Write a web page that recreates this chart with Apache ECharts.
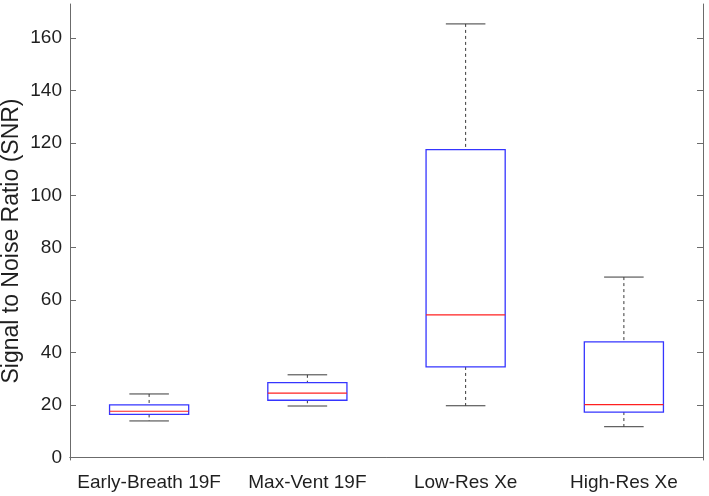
<!DOCTYPE html>
<html>
<head>
<meta charset="utf-8">
<script src="https://cdn.jsdelivr.net/npm/echarts@6/dist/echarts.min.js"></script>
<style>html,body{margin:0;padding:0;background:#fff}#c{width:709px;height:496px}</style>
</head>
<body>
<div id="c"></div>
<script>
const categories = ['Early-Breath 19F', 'Max-Vent 19F', 'Low-Res Xe', 'High-Res Xe'];
const lowerWhisker = [13.9, 19.6, 19.7, 11.7];
const q1 = [16.4, 21.8, 34.5, 17.3];
const median = [17.6, 24.5, 54.4, 20.1];
const q3 = [20.0, 28.5, 117.4, 44.1];
const upperWhisker = [24.2, 31.5, 165.4, 68.8];
const yTicks = [0, 20, 40, 60, 80, 100, 120, 140, 160];
const yTitle = 'Signal to Noise Ratio (SNR)';
const yMin = -1, yMax = 173;

const FONT = "'Liberation Sans', Arial, Helvetica, sans-serif";
const AX = '#6b6b6b';
const TXT = '#1f1f1f';

const data = categories.map((c, i) => [i, lowerWhisker[i], q1[i], median[i], q3[i], upperWhisker[i]]);

function renderItem(params, api) {
  const idx = api.value(0);
  const band = api.size([1, 0])[0];
  const bw = band * 0.5, cw = band * 0.25;
  const pLo = api.coord([idx, api.value(1)]);
  const pQ1 = api.coord([idx, api.value(2)]);
  const pMed = api.coord([idx, api.value(3)]);
  const pQ3 = api.coord([idx, api.value(4)]);
  const pHi = api.coord([idx, api.value(5)]);
  const x = pMed[0];
  const wh = {stroke: '#3a3a3a', lineWidth: 1, lineDash: [3, 3]};
  const cap = {stroke: '#3a3a3a', lineWidth: 1};
  return {
    type: 'group',
    children: [
      {type: 'line', shape: {x1: x, y1: pHi[1], x2: x, y2: pQ3[1]}, style: wh},
      {type: 'line', shape: {x1: x, y1: pQ1[1], x2: x, y2: pLo[1]}, style: wh},
      {type: 'line', shape: {x1: x - cw / 2, y1: pHi[1], x2: x + cw / 2, y2: pHi[1]}, style: cap},
      {type: 'line', shape: {x1: x - cw / 2, y1: pLo[1], x2: x + cw / 2, y2: pLo[1]}, style: cap},
      {type: 'rect', shape: {x: x - bw / 2, y: pQ3[1], width: bw, height: pQ1[1] - pQ3[1]},
        style: {fill: 'none', stroke: '#3535ff', lineWidth: 1.3}},
      {type: 'line', shape: {x1: x - bw / 2, y1: pMed[1], x2: x + bw / 2, y2: pMed[1]},
        style: {stroke: '#ff2020', lineWidth: 1.2}}
    ]
  };
}

const chart = echarts.init(document.getElementById('c'), null, {renderer: 'canvas'});
chart.setOption({
  animation: false,
  backgroundColor: '#fff',
  grid: {left: 70, right: 6, top: 4, bottom: 36, containLabel: false},
  graphic: [{
    type: 'text', x: 12, y: 241, rotation: Math.PI / 2,
    style: {text: yTitle, fill: TXT, font: "23px 'Liberation Sans', Arial, Helvetica, sans-serif",
      align: 'center', verticalAlign: 'middle'}
  }],
  xAxis: [
    {type: 'category', data: categories, boundaryGap: true, position: 'bottom',
      axisLine: {lineStyle: {color: AX, width: 1}},
      axisTick: {inside: true, length: 6, alignWithLabel: true, lineStyle: {color: AX}},
      axisLabel: {color: TXT, fontSize: 19, fontFamily: FONT, margin: 13, interval: 0},
      splitLine: {show: false}},
    {type: 'category', data: categories, boundaryGap: true, position: 'top',
      axisLine: {lineStyle: {color: AX, width: 1}},
      axisTick: {inside: true, length: 6, alignWithLabel: true, lineStyle: {color: AX}},
      axisLabel: {show: false}, splitLine: {show: false}}
  ],
  yAxis: [
    {type: 'value', min: yMin, max: yMax, position: 'left',
      axisLine: {show: true, lineStyle: {color: AX, width: 1}},
      axisTick: {show: true, inside: true, length: 6, customValues: yTicks, lineStyle: {color: AX}},
      axisLabel: {color: TXT, fontSize: 19, fontFamily: FONT, margin: 8, customValues: yTicks},
      splitLine: {show: false}},
    {type: 'value', min: yMin, max: yMax, position: 'right',
      axisLine: {show: true, lineStyle: {color: AX, width: 1}},
      axisTick: {show: true, inside: true, length: 6, customValues: yTicks, lineStyle: {color: AX}},
      axisLabel: {show: false, customValues: yTicks},
      splitLine: {show: false}}
  ],
  series: [{
    type: 'custom',
    xAxisIndex: 0, yAxisIndex: 0,
    renderItem: renderItem,
    encode: {x: 0, y: [1, 2, 3, 4, 5]},
    data: data,
    clip: false
  }]
});
</script>
</body>
</html>
